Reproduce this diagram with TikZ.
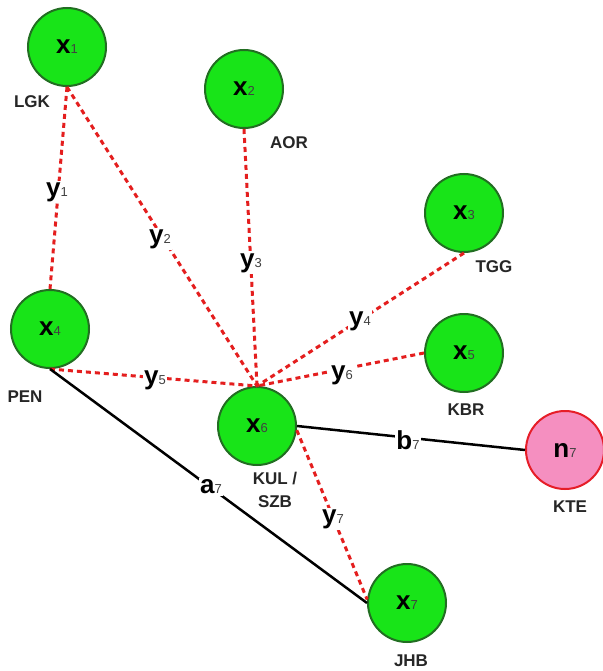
\documentclass[tikz,border=0pt]{standalone}
\usepackage{fontspec}
\setmainfont{Liberation Sans}
\definecolor{gfill}{RGB}{24,228,24}
\definecolor{gborder}{RGB}{34,110,34}
\definecolor{pfill}{RGB}{245,143,192}
\definecolor{pborder}{RGB}{230,30,40}
\definecolor{dred}{RGB}{228,30,30}
\newcommand\nv[2]{{\fontsize{26}{26}\selectfont\bfseries #1}{\fontsize{13}{13}\selectfont\color{black!75}#2}}
\begin{document}
\begin{tikzpicture}[x=1pt,y=-1pt,
  vert/.style={circle, minimum size=78pt, inner sep=0pt, draw=gborder, line width=2pt, fill=gfill},
  pvert/.style={vert, draw=pborder, fill=pfill},
  city/.style={font=\fontsize{17}{23}\selectfont\bfseries, text=black!85, align=center, inner sep=0pt},
  elab/.style={fill=white, inner sep=1.5pt},
  dline/.style={draw=dred, line width=3pt, dash pattern=on 5pt off 4pt},
  bline/.style={draw=black, line width=2.5pt}]
\useasboundingbox (0,0) rectangle (602,671);
\fill[white] (0,0) rectangle (602,671);

% vertices
\node[vert] (x1) at (67,47) {\nv{x}{1}};
\node[vert] (x2) at (244,89) {\nv{x}{2}};
\node[vert] (x3) at (464,213) {\nv{x}{3}};
\node[vert] (x4) at (50,329) {\nv{x}{4}};
\node[vert] (x5) at (464,353) {\nv{x}{5}};
\node[vert] (x6) at (257,426) {\nv{x}{6}};
\node[pvert] (n7) at (565,450) {\nv{n}{7}};
\node[vert] (x7) at (407,603) {\nv{x}{7}};

% city labels
\node[city] (lgk) at (32,102) {LGK};
\node[city] (aor) at (289,143) {AOR};
\node[city] (tgg) at (494,267) {TGG};
\node[city] (pen) at (25,397) {PEN};
\node[city] (kul) at (275,490) {KUL /\\SZB};
\node[city] (kbr) at (466,410) {KBR};
\node[city] (kte) at (570,507) {KTE};
\node[city] (jhb) at (411,661) {JHB};

% connectors
\draw[dline] (x1.south) -- (x4.north);
\draw[dline] (x1.south) -- (x6.north);
\draw[dline] (x2.south) -- (x6.north);
\draw[dline] (x3.south) -- (x6.north);
\draw[dline] (x5.west) -- (x6.north);
\draw[dline] (x4.south) -- (x6.north);
\draw[dline] (x6.-6) -- (x7.175);
\draw[bline] (x4.south) -- (x7.west);
\draw[bline] (x6.east) -- (n7.west);

% edge labels
\node[elab] (y1) at (57,192) {\nv{y}{1}};
\node[elab] (y2) at (160,239) {\nv{y}{2}};
\node[elab] (y3) at (251,263) {\nv{y}{3}};
\node[elab] (y4) at (360,321) {\nv{y}{4}};
\node[elab] (y5) at (155,380) {\nv{y}{5}};
\node[elab] (y6) at (342,375) {\nv{y}{6}};
\node[elab] (y7) at (333,519) {\nv{y}{7}};
\node[elab] (a7) at (211,487) {\nv{a}{7}};
\node[elab] (b7) at (408,440) {\nv{b}{7}};
\end{tikzpicture}
\end{document}
